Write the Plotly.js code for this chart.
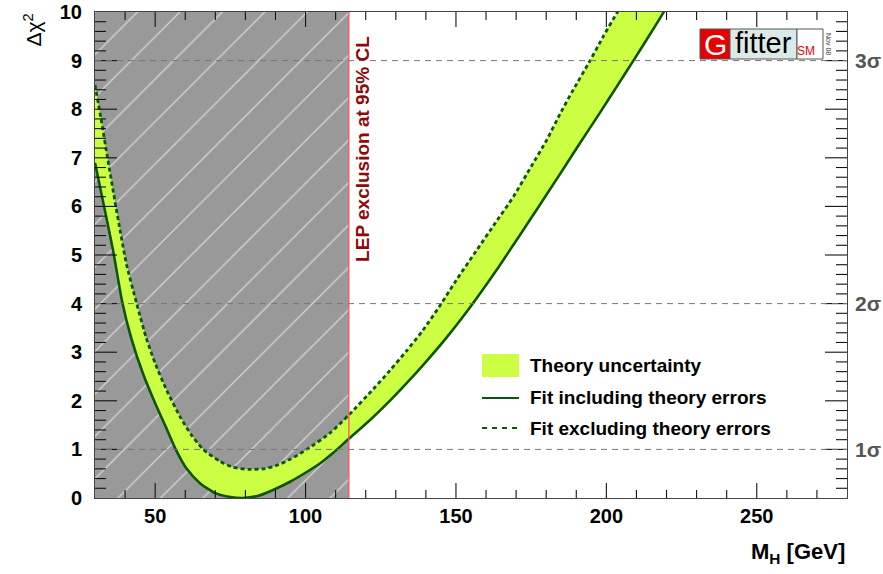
<!DOCTYPE html>
<html>
<head>
<meta charset="utf-8">
<script src="https://cdn.plot.ly/plotly-3.0.1.min.js"></script>
<style>
  html, body { margin: 0; padding: 0; background: #fff; }
  #chart { width: 883px; height: 574px; }
</style>
</head>
<body>
<div id="chart"></div>
<script>
// Higgs mass scan: delta chi^2 versus M_H (GeV)
const massRange = [30, 280];
const chi2Range = [0, 10];
const lepLimit = 114.4;               // LEP 95% CL lower limit on M_H
const sigmaTickVals = [1, 4, 9];
const sigmaTickText = ['1\u03c3', '2\u03c3', '3\u03c3'];

// Fit including theory errors (lower edge of the theory band)
const fitInclMass = [30, 32, 36, 39, 42, 46, 50, 54, 57, 60.5, 65, 70, 75, 79.2, 84, 89, 95, 100.5, 105, 109,
  114.4, 121, 128, 134, 139, 147, 155, 163.5, 169, 175, 180.3, 186, 191.2, 197.9, 203.4, 209, 214, 218.4, 221];
const fitInclChi2 = [6.9, 6.3, 5.1, 4.05, 3.3, 2.55, 1.95, 1.4, 0.98, 0.6, 0.3, 0.1, 0.02, 0.0, 0.04, 0.16, 0.34, 0.54, 0.72, 0.92,
  1.22, 1.58, 2.0, 2.39, 2.73, 3.31, 3.95, 4.69, 5.2, 5.76, 6.26, 6.8, 7.3, 7.93, 8.46, 9.0, 9.49, 9.93, 10.2];

// Fit excluding theory errors (upper edge of the theory band)
const fitExclMass = [30, 32, 34.3, 36.5, 38.5, 40.5, 43.9, 47, 50, 53.8, 58.3, 62, 66, 71.6, 76, 81, 86, 90, 95, 100.4,
  108, 114.4, 122.5, 128, 133.6, 139, 144.7, 150.2, 156.9, 163, 169.1, 175, 180.2, 185, 189, 194.6, 199, 203.4, 206];
const fitExclChi2 = [8.5, 7.8, 6.95, 6.15, 5.45, 4.8, 3.99, 3.3, 2.77, 2.22, 1.67, 1.3, 1.0, 0.75, 0.63, 0.59, 0.6, 0.66, 0.8, 1.0,
  1.33, 1.71, 2.24, 2.62, 3.03, 3.45, 3.96, 4.49, 5.1, 5.65, 6.2, 6.82, 7.37, 7.95, 8.4, 9.0, 9.5, 9.97, 10.25];

const legendLabels = ['Theory uncertainty', 'Fit including theory errors', 'Fit excluding theory errors'];

const bandColor = '#ccff44';
const lineColor = '#0d550d';
const FONT = 'Liberation Sans, Arial, Helvetica, sans-serif';

// plot-area geometry in pixels, used to place the legend, logo and tick marks
const W = 883, H = 574, mL = 95, mR = 36, mT = 12, mB = 76;
const pw = W - mL - mR, ph = H - mT - mB;
const px = v => (v - mL) / pw;
const py = v => (H - mB - v) / ph;
const massPerPx = (massRange[1] - massRange[0]) / pw;
const chi2PerPx = (chi2Range[1] - chi2Range[0]) / ph;

// inward tick marks on the four sides of the frame, as line segments
const tickX = [], tickY = [];
for (let m = massRange[0] + 10; m < massRange[1]; m += 10) {
  const len = (m % 50 === 0 ? 15 : 8) * chi2PerPx;
  tickX.push(m, m, null, m, m, null);
  tickY.push(chi2Range[0], chi2Range[0] + len, null, chi2Range[1], chi2Range[1] - len, null);
}
for (let k = 1; k < 50; k++) {
  const v = k / 5;
  const len = (k % 5 === 0 ? 22 : 11) * massPerPx;
  tickX.push(massRange[0], massRange[0] + len, null, massRange[1], massRange[1] - len, null);
  tickY.push(v, v, null, v, v, null);
}

const traces = [
  { // excluded region, hatched
    x: [massRange[0], lepLimit, lepLimit, massRange[0], massRange[0]],
    y: [chi2Range[0], chi2Range[0], chi2Range[1], chi2Range[1], chi2Range[0]],
    mode: 'lines', fill: 'toself', line: { width: 0 },
    fillcolor: '#999999',
    fillpattern: { shape: '/', bgcolor: '#999999', fgcolor: '#d4d4d4', size: 30, solidity: 0.045 },
    hoverinfo: 'skip', showlegend: false
  },
  {
    x: fitInclMass, y: fitInclChi2, mode: 'lines',
    line: { color: lineColor, width: 2.6, shape: 'spline', smoothing: 0.6 },
    showlegend: false
  },
  {
    x: fitExclMass, y: fitExclChi2, mode: 'lines', fill: 'tonexty', fillcolor: bandColor,
    line: { color: lineColor, width: 2.8, dash: '4px,3px', shape: 'spline', smoothing: 0.6 },
    showlegend: false
  },
  {
    x: tickX, y: tickY, mode: 'lines', connectgaps: false,
    line: { color: '#111111', width: 1.1 }, hoverinfo: 'skip', showlegend: false
  }
];

const shapes = [];
// sigma reference lines
sigmaTickVals.forEach(v => shapes.push({
  type: 'line', xref: 'paper', yref: 'y', x0: 0, x1: 1, y0: v, y1: v,
  line: { color: '#777', width: 1, dash: '6px,5px' }, layer: 'above'
}));
// LEP limit
shapes.push({
  type: 'line', xref: 'x', yref: 'paper', x0: lepLimit, x1: lepLimit, y0: 0, y1: 1,
  line: { color: '#f05a5a', width: 1.3 }, layer: 'above'
});
// legend symbols
shapes.push({ type: 'rect', xref: 'paper', yref: 'paper', x0: px(482), x1: px(519), y0: py(377), y1: py(354),
  fillcolor: bandColor, line: { width: 0 } });
shapes.push({ type: 'line', xref: 'paper', yref: 'paper', x0: px(482), x1: px(519), y0: py(398), y1: py(398),
  line: { color: lineColor, width: 2 } });
shapes.push({ type: 'line', xref: 'paper', yref: 'paper', x0: px(482), x1: px(519), y0: py(428), y1: py(428),
  line: { color: lineColor, width: 2, dash: '5px,5px' } });
// Gfitter logo boxes
shapes.push({ type: 'rect', xref: 'paper', yref: 'paper', x0: px(700), x1: px(730), y0: py(59), y1: py(29),
  fillcolor: '#e60000', line: { color: '#555', width: 1 } });
shapes.push({ type: 'rect', xref: 'paper', yref: 'paper', x0: px(730), x1: px(797), y0: py(59), y1: py(29),
  fillcolor: '#dde9e9', line: { color: '#555', width: 1 } });
shapes.push({ type: 'rect', xref: 'paper', yref: 'paper', x0: px(797), x1: px(823), y0: py(59), y1: py(29),
  fillcolor: '#ffffff', line: { color: '#555', width: 1 } });

const annotations = [];
legendLabels.forEach((t, i) => annotations.push({
  text: t, xref: 'paper', yref: 'paper', x: px(528), y: py([365, 397, 428][i]),
  xanchor: 'left', yanchor: 'middle', showarrow: false,
  font: { family: FONT, size: 19, weight: 'bold', color: '#000' }
}));
sigmaTickVals.forEach((v, i) => annotations.push({
  text: sigmaTickText[i], xref: 'paper', yref: 'y', x: 1, y: v, xshift: 6,
  xanchor: 'left', yanchor: 'middle', showarrow: false,
  font: { family: FONT, size: 21, weight: 'bold', color: '#555' }
}));
annotations.push({
  text: 'LEP exclusion at 95% CL', xref: 'x', yref: 'paper', x: lepLimit, y: 1,
  xshift: 13, yshift: -22, xanchor: 'center', yanchor: 'top', textangle: -90, showarrow: false,
  font: { family: FONT, size: 19, weight: 'bold', color: '#8b0a0a' }
});
annotations.push({
  text: 'M<sub>H</sub> [GeV]', xref: 'paper', yref: 'paper', x: 1, y: py(553),
  xanchor: 'right', yanchor: 'middle', showarrow: false,
  font: { family: FONT, size: 22, weight: 'bold', color: '#000' }
});
annotations.push({
  text: '\u0394\u03c7<sup>2</sup>', xref: 'paper', yref: 'paper', x: px(32), y: py(12),
  xanchor: 'center', yanchor: 'top', textangle: -90, showarrow: false,
  font: { family: FONT, size: 21, color: '#000' }
});
// logo text
annotations.push({ text: 'G', xref: 'paper', yref: 'paper', x: px(715), y: py(44), xanchor: 'center', yanchor: 'middle',
  showarrow: false, font: { family: FONT, size: 30, color: '#fff' } });
annotations.push({ text: 'fitter', xref: 'paper', yref: 'paper', x: px(763.5), y: py(43), xanchor: 'center', yanchor: 'middle',
  showarrow: false, font: { family: FONT, size: 29, color: '#000' } });
annotations.push({ text: 'SM', xref: 'paper', yref: 'paper', x: px(806), y: py(51), xanchor: 'center', yanchor: 'middle',
  showarrow: false, font: { family: FONT, size: 12, color: '#ee0000' } });
annotations.push({ text: 'Nov 08', xref: 'paper', yref: 'paper', x: px(829), y: py(44), xanchor: 'center', yanchor: 'middle',
  textangle: 90, showarrow: false, font: { family: FONT, size: 7, color: '#333' } });

const layout = {
  width: W, height: H,
  margin: { l: mL, r: mR, t: mT, b: mB },
  showlegend: false,
  xaxis: {
    range: massRange, tickmode: 'linear', tick0: 0, dtick: 50, ticks: '',
    showline: true, linecolor: '#444', mirror: true,
    showgrid: false, zeroline: false,
    tickfont: { family: FONT, size: 20, weight: 'bold', color: '#000' }
  },
  yaxis: {
    range: chi2Range, tickmode: 'linear', tick0: 0, dtick: 1, ticks: '',
    showline: true, linecolor: '#444', mirror: true,
    showgrid: false, zeroline: false, ticklabelstandoff: 8,
    tickfont: { family: FONT, size: 20, weight: 'bold', color: '#000' }
  },
  shapes: shapes,
  annotations: annotations
};

Plotly.newPlot('chart', traces, layout, { staticPlot: true, displayModeBar: false });
</script>
</body>
</html>
